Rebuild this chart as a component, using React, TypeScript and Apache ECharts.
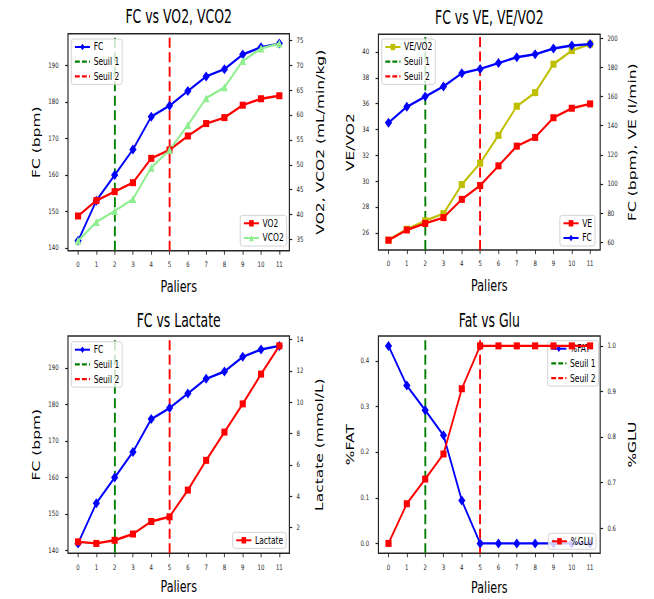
import React, { useEffect, useRef } from "react";
import * as echarts from "echarts";

// ---------------- data ----------------
const PALIERS = [0, 1, 2, 3, 4, 5, 6, 7, 8, 9, 10, 11];
const FC = [142, 153, 160, 167, 176, 179, 183, 187, 189, 193, 195, 196];
const VO2 = [39.7, 42.8, 44.6, 46.4, 51.3, 53.0, 55.8, 58.3, 59.5, 62.0, 63.3, 63.9];
const VCO2 = [34.7, 38.5, 40.7, 43.1, 49.4, 53.0, 58.0, 63.4, 65.6, 70.9, 73.4, 74.4];
const VE_VO2 = [25.45, 26.3, 26.95, 27.5, 29.75, 31.4, 33.55, 35.8, 36.85, 39.05, 40.1, 40.6];
const VE = [61.5, 68.5, 73, 77, 89.5, 99, 112.5, 126, 132, 145.5, 152, 155];
const LACTATE = [1.1, 1.0, 1.2, 1.6, 2.4, 2.7, 4.4, 6.3, 8.1, 9.9, 11.8, 13.6];
const PCT_FAT = [0.433, 0.346, 0.292, 0.237, 0.094, 0, 0, 0, 0, 0, 0, 0];
const PCT_GLU = [0.567, 0.654, 0.708, 0.763, 0.906, 1, 1, 1, 1, 1, 1, 1];
const SEUIL_1 = 2;
const SEUIL_2 = 5;

// tick labels
const X_TICKS = [0, 1, 2, 3, 4, 5, 6, 7, 8, 9, 10, 11];
const FC_TICKS = [140, 150, 160, 170, 180, 190];
const VO2_TICKS = [35, 40, 45, 50, 55, 60, 65, 70, 75];
const VEVO2_TICKS = [26, 28, 30, 32, 34, 36, 38, 40];
const FCVE_TICKS = [60, 80, 100, 120, 140, 160, 180, 200];
const LACT_TICKS = [2, 4, 6, 8, 10, 12, 14];
const FAT_TICKS = [0, 0.1, 0.2, 0.3, 0.4];
const GLU_TICKS = [0.6, 0.7, 0.8, 0.9, 1.0];

// ---------------- layout ----------------
const W = 908;
const H = 599;
const SX = 654 / W;
const FONT = "DejaVu Sans";

const GRIDS = [
  { left: 94.4, top: 33.7, width: 307.4, height: 217 },
  { left: 525.4, top: 34.3, width: 307.9, height: 215.7 },
  { left: 94.4, top: 336, width: 307.4, height: 217.3 },
  { left: 525.4, top: 336, width: 307.9, height: 217.3 },
];

function ext(...arrs: number[][]) {
  const all = arrs.flat();
  const lo = Math.min(...all);
  const hi = Math.max(...all);
  const pad = (hi - lo) * 0.05;
  return { min: lo - pad, max: hi + pad };
}

const BLUE = "#0000ff";
const RED = "#ff0000";
const GREEN = "#008000";
const LGREEN = "#90ee90";
const OLIVE = "#bfbf00";
const DASH = [10, 4.5];
const DASH_ICON = "path://M0,0h8v2.6h-8z M11.5,0h8v2.6h-8z M23,0h1.8v2.6h-1.8z";

function pairs(ys: number[]) {
  return PALIERS.map((x, i) => [x, ys[i]]);
}

function buildOption() {
  const xr = ext(PALIERS);
  const xAxis = GRIDS.map((_, i) => ({
    type: "value",
    gridIndex: i,
    min: xr.min,
    max: xr.max,
    axisLine: { show: false, onZero: false },
    axisTick: { show: true, length: 4, customValues: X_TICKS, lineStyle: { color: "#222", width: 1.2 } },
    axisLabel: {
      customValues: X_TICKS,
      fontSize: 7.5,
      fontFamily: FONT,
      color: "#222",
      margin: 10,
    },
    splitLine: { show: false },
  }));

  const yDefs: any[] = [
    { g: 0, pos: "left", r: ext(FC), ticks: FC_TICKS, fmt: (v: number) => String(v) },
    { g: 0, pos: "right", r: ext(VO2, VCO2), ticks: VO2_TICKS, fmt: (v: number) => String(v) },
    { g: 1, pos: "left", r: ext(VE_VO2), ticks: VEVO2_TICKS, fmt: (v: number) => String(v) },
    { g: 1, pos: "right", r: ext(VE, FC), ticks: FCVE_TICKS, fmt: (v: number) => String(v) },
    { g: 2, pos: "left", r: ext(FC), ticks: FC_TICKS, fmt: (v: number) => String(v) },
    { g: 2, pos: "right", r: ext(LACTATE), ticks: LACT_TICKS, fmt: (v: number) => String(v) },
    { g: 3, pos: "left", r: ext(PCT_FAT), ticks: FAT_TICKS, fmt: (v: number) => v.toFixed(1) },
    { g: 3, pos: "right", r: ext(PCT_GLU), ticks: GLU_TICKS, fmt: (v: number) => v.toFixed(1) },
  ];
  const yAxis = yDefs.map((d) => ({
    type: "value",
    gridIndex: d.g,
    position: d.pos,
    min: d.r.min,
    max: d.r.max,
    axisLine: { show: false, onZero: false },
    axisTick: { show: true, length: 4, customValues: d.ticks, lineStyle: { color: "#222", width: 1.2 } },
    axisLabel: {
      customValues: d.ticks,
      formatter: d.fmt,
      fontSize: 7.5,
      fontFamily: FONT,
      color: "#222",
      margin: d.pos === "left" ? 13 : 10,
    },
    splitLine: { show: false },
  }));

  const dataSeries = (
    name: string,
    g: number,
    yi: number,
    ys: number[],
    color: string,
    symbol: string,
    size: any,
    z: number
  ) => ({
    type: "line",
    name,
    xAxisIndex: g,
    yAxisIndex: yi,
    data: pairs(ys),
    symbol,
    symbolSize: size,
    showSymbol: true,
    lineStyle: { color, width: 2.4 },
    itemStyle: { color, borderWidth: 0 },
    z,
    silent: true,
  });

  const seuil = (name: string, g: number, yi: number, x: number, color: string) => ({
    type: "line",
    name,
    xAxisIndex: g,
    yAxisIndex: yi,
    data: [],
    symbol: "none",
    lineStyle: { color, width: 2.6, type: DASH },
    itemStyle: { color },
    z: 2,
    markLine: {
      silent: true,
      symbol: ["none", "none"],
      label: { show: false },
      lineStyle: { color, width: 2.6, type: DASH },
      data: [{ xAxis: x }],
      z: 2,
    },
  });

  const DIA = [10, 10];
  const SQ = [8.5, 7];
  const TRI = [9.5, 8];

  const series = [
    // Plot 1
    dataSeries("FC", 0, 0, FC, BLUE, "diamond", DIA, 2),
    seuil("Seuil 1", 0, 0, SEUIL_1, GREEN),
    seuil("Seuil 2", 0, 0, SEUIL_2, RED),
    dataSeries("VO2", 0, 1, VO2, RED, "rect", SQ, 4),
    dataSeries("VCO2", 0, 1, VCO2, LGREEN, "triangle", TRI, 4),
    // Plot 2
    dataSeries("VE/VO2", 1, 2, VE_VO2, OLIVE, "rect", SQ, 2),
    seuil("Seuil 1", 1, 2, SEUIL_1, GREEN),
    seuil("Seuil 2", 1, 2, SEUIL_2, RED),
    dataSeries("VE", 1, 3, VE, RED, "rect", SQ, 4),
    dataSeries("FC", 1, 3, FC, BLUE, "diamond", DIA, 4),
    // Plot 3
    dataSeries("FC", 2, 4, FC, BLUE, "diamond", DIA, 2),
    seuil("Seuil 1", 2, 4, SEUIL_1, GREEN),
    seuil("Seuil 2", 2, 4, SEUIL_2, RED),
    dataSeries("Lactate", 2, 5, LACTATE, RED, "rect", SQ, 4),
    // Plot 4
    dataSeries("%FAT", 3, 6, PCT_FAT, BLUE, "diamond", DIA, 2),
    seuil("Seuil 1", 3, 6, SEUIL_1, GREEN),
    seuil("Seuil 2", 3, 6, SEUIL_2, RED),
    dataSeries("%GLU", 3, 7, PCT_GLU, RED, "rect", SQ, 4),
  ];

  const legendBase = {
    orient: "vertical",
    itemWidth: 21,
    itemHeight: 8,
    itemGap: 2.7,
    padding: [2, 4, 2, 4],
    backgroundColor: "rgba(255,255,255,0.8)",
    borderColor: "#cccccc",
    borderWidth: 1,
    borderRadius: 3,
    selectedMode: false,
    textStyle: { fontSize: 10.5, fontFamily: FONT, color: "#000", lineHeight: 12 },
  };
  const s1 = { name: "Seuil 1", icon: DASH_ICON };
  const s2 = { name: "Seuil 2", icon: DASH_ICON };
  const legend = [
    { ...legendBase, data: ["FC", s1, s2], left: 99, top: 39, z: 3 },
    { ...legendBase, data: ["VO2", "VCO2"], right: W - 398, bottom: H - 246, z: 6 },
    { ...legendBase, data: ["VE/VO2", s1, s2], left: 530, top: 39, z: 3 },
    { ...legendBase, data: ["VE", "FC"], right: W - 826.1, bottom: H - 246, z: 6 },
    { ...legendBase, data: ["FC", s1, s2], left: 99, top: 341.7, z: 3 },
    { ...legendBase, data: ["Lactate"], right: W - 397.2, bottom: H - 548.3, z: 6 },
    { ...legendBase, data: ["%FAT", s1, s2], right: W - 831, top: 340.7, z: 3 },
    { ...legendBase, data: ["%GLU"], right: W - 827.4, bottom: H - 549.3, z: 6 },
  ];

  const gc = (i: number) => GRIDS[i].left + GRIDS[i].width / 2;
  const gm = (i: number) => GRIDS[i].top + GRIDS[i].height / 2;
  const txt = (text: string, x: number, y: number, size: number, rot = 0, sx = 1) => ({
    type: "text",
    x,
    y,
    rotation: rot,
    scaleX: sx,
    silent: true,
    z: 10,
    style: {
      text,
      fontSize: size,
      fontFamily: FONT,
      fill: "#000",
      align: "center",
      verticalAlign: "middle",
      textAlign: "center",
      textVerticalAlign: "middle",
    },
  });
  const TS = 18.6;
  const TSX = 0.93;
  const LS = 15.5;
  const R90 = Math.PI / 2;
  const graphic = [
    txt("FC vs VO2, VCO2", gc(0), 16.8, TS, 0, TSX),
    txt("FC vs VE, VE/VO2", gc(1), 17.2, TS, 0, TSX),
    txt("FC vs Lactate", gc(2), 320.3, TS, 0, TSX),
    txt("Fat vs Glu", gc(3), 320.5, TS, 0, TSX),
    txt("Paliers", gc(0), 285.8, LS),
    txt("Paliers", gc(1), 285.3, LS),
    txt("Paliers", gc(2), 586.5, LS),
    txt("Paliers", gc(3), 586.8, LS),
    txt("FC (bpm)", 49.3, gm(0), LS, R90),
    txt("VO2, VCO2 (mL/min/kg)", 444.4, gm(0), LS, R90),
    txt("VE/VO2", 486.1, gm(1), LS, R90),
    txt("FC (bpm), VE (l/min)", 877.8, gm(1), LS, R90),
    txt("FC (bpm)", 49.3, gm(2), LS, R90),
    txt("Lactate (mmol/L)", 443, gm(2), LS, R90),
    txt("%FAT", 485.4, gm(3), LS, R90),
    txt("%GLU", 877.4, gm(3), LS, R90),
  ];

  return {
    animation: false,
    backgroundColor: "#ffffff",
    grid: GRIDS.map((g) => ({
      ...g,
      show: true,
      borderColor: "#262626",
      borderWidth: 1.6,
      backgroundColor: "transparent",
      containLabel: false,
    })),
    xAxis,
    yAxis,
    series,
    legend,
    graphic,
    tooltip: { show: false },
  };
}

export default function App() {
  const ref = useRef<HTMLDivElement>(null);
  useEffect(() => {
    document.body.style.margin = "0";
    const chart = echarts.init(ref.current as HTMLDivElement, null, { renderer: "svg" });
    chart.setOption(buildOption() as any);
    return () => chart.dispose();
  }, []);
  return (
    <div
      style={{
        position: "fixed",
        left: 0,
        top: 0,
        width: 654,
        height: H,
        overflow: "hidden",
        background: "#fff",
      }}
    >
      <div
        ref={ref}
        style={{ width: W, height: H, transform: `scaleX(${SX})`, transformOrigin: "0 0" }}
      />
    </div>
  );
}
